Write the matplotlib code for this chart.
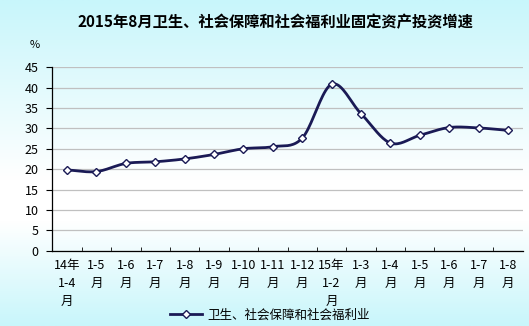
import numpy as np
import matplotlib.pyplot as plt
from matplotlib.colors import LinearSegmentedColormap

plt.rcParams['font.family'] = ['Noto Sans CJK SC', 'DejaVu Sans']

title = "2015年8月卫生、社会保障和社会福利业固定资产投资增速"
series_name = "卫生、社会保障和社会福利业"
months = ["14年\n1-4\n月", "1-5\n月", "1-6\n月", "1-7\n月", "1-8\n月", "1-9\n月",
          "1-10\n月", "1-11\n月", "1-12\n月", "15年\n1-2\n月", "1-3\n月", "1-4\n月",
          "1-5\n月", "1-6\n月", "1-7\n月", "1-8\n月"]
growth = [19.8, 19.4, 21.4, 21.8, 22.5, 23.6, 25.0, 25.5, 27.6, 40.8, 33.6, 26.4,
          28.3, 30.2, 30.1, 29.5]


def smooth(x, y, n=20):
    # catmull-rom, roughly what excel does for smoothed lines
    x = np.asarray(x, float)
    y = np.asarray(y, float)
    px = np.concatenate([[2 * x[0] - x[1]], x, [2 * x[-1] - x[-2]]])
    py = np.concatenate([[2 * y[0] - y[1]], y, [2 * y[-1] - y[-2]]])
    xs, ys = [], []
    t = np.linspace(0, 1, n, endpoint=False)
    for i in range(1, len(px) - 2):
        for p, out in ((px, xs), (py, ys)):
            p0, p1, p2, p3 = p[i - 1], p[i], p[i + 1], p[i + 2]
            out.extend(0.5 * (2 * p1 + (-p0 + p2) * t
                              + (2 * p0 - 5 * p1 + 4 * p2 - p3) * t ** 2
                              + (-p0 + 3 * p1 - 3 * p2 + p3) * t ** 3))
    xs.append(x[-1])
    ys.append(y[-1])
    return np.array(xs), np.array(ys)


fig = plt.figure(figsize=(5.29, 3.26), dpi=100)

# background gradient: cyan - white - cyan
bg = fig.add_axes([0, 0, 1, 1], zorder=-1)
cmap = LinearSegmentedColormap.from_list(
    "bg", [(0, "#c8f6fb"), (0.55, "#ffffff"), (0.68, "#ffffff"), (1, "#c8f6fb")])
bg.imshow(np.linspace(0, 1, 256).reshape(-1, 1), aspect='auto', cmap=cmap,
          extent=[0, 1, 0, 1])
bg.axis('off')

ax = fig.add_axes([0.099, 0.231, 0.889, 0.563])
ax.patch.set_alpha(0)

x = np.arange(len(growth))
sx, sy = smooth(x, growth)
navy = "#1a1a55"
ax.plot(sx, sy, color=navy, lw=2, zorder=3)
ax.plot(x, growth, ls='none', marker='D', ms=4.5, mfc='white', mec=navy,
        mew=1, zorder=4)
# legend proxy
ax.plot([], [], color=navy, lw=2, marker='D', ms=4, mfc='white', mec=navy,
        mew=1, label=series_name)

ax.set_xlim(-0.5, len(growth) - 0.5)
ax.set_ylim(0, 45)
ax.set_yticks(range(0, 46, 5))
ax.yaxis.grid(True, color="#c0c0c0", lw=0.9)
ax.set_axisbelow(True)

ax.set_xticks(x)
ax.set_xticklabels(months, fontsize=9, linespacing=1.5, va='top')
ax.set_xticks(np.arange(0.5, len(growth) - 0.5, 1), minor=True)
ax.tick_params(axis='x', which='major', length=0, pad=6)
ax.tick_params(axis='x', which='minor', direction='in', length=3)
ax.tick_params(axis='y', direction='out', length=4, labelsize=9, pad=6)

for side in ('top', 'right'):
    ax.spines[side].set_visible(False)
for side in ('left', 'bottom'):
    ax.spines[side].set_color('black')
    ax.spines[side].set_linewidth(0.9)

fig.text(0.52, 0.932, title, ha='center', va='center', fontsize=11,
         fontweight='bold')
fig.text(0.066, 0.862, "%", ha='center', va='center', fontsize=8)

handles, labels = ax.get_legend_handles_labels()
fig.legend(handles, labels, loc='center', bbox_to_anchor=(0.51, 0.033),
           frameon=False, fontsize=9, handlelength=2.6, handletextpad=0.4,
           borderpad=0, borderaxespad=0)

fig.savefig("out.png", dpi=100)
